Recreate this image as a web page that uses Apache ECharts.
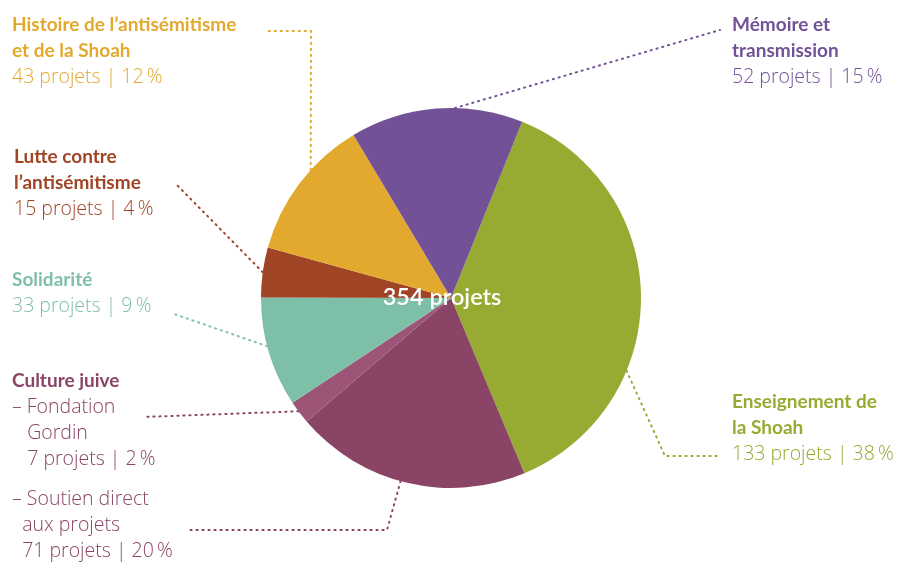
<!DOCTYPE html>
<html><head><meta charset="utf-8">
<script src="https://cdn.jsdelivr.net/npm/echarts@6/dist/echarts.min.js"></script>
<style>html,body{margin:0;padding:0;background:#fff}#c{width:900px;height:562px}</style>
</head><body><div id="c"></div>
<script>
// ---- data ----
const categories = ['Enseignement de la Shoah', 'Culture juive – Soutien direct aux projets', 'Culture juive – Fondation Gordin', 'Solidarité', 'Lutte contre l’antisémitisme', 'Histoire de l’antisémitisme et de la Shoah', 'Mémoire et transmission'];
const values = [133, 71, 7, 33, 15, 43, 52];
const boldLines = [['Enseignement de', 'la Shoah'], [], ['Culture juive'], ['Solidarité'], ['Lutte contre', 'l’antisémitisme'], ['Histoire de l’antisémitisme', 'et de la Shoah'], ['Mémoire et', 'transmission']];
const lightLines = [[], ['– Soutien direct', '  aux projets'], ['– Fondation', '   Gordin'], [], [], [], []];
const colors = ['#97AA31', '#8A4466', '#9C5577', '#7EBFA7', '#A04426', '#E2A92E', '#725196'];
const textColors = ['#97AA31', '#8A4466', '#8A4466', '#7EBFA7', '#A04426', '#E2A92E', '#725196'];

// ---- layout (not data) ----
const CX = 451, CY = 298, R = 190;
const labelPos = [[732, 389], [12, 486], [12, 368], [12, 267], [14, 144], [12, 12], [732, 12]];
const valueIndent = ['', '  ', '   ', '', '', '', ''];
// leader: angle (deg clockwise from top) where it touches the pie, then further points
const leaders = [
  {a: 112.5, pts: [[665, 456], [718, 456]]},
  {a: 195.4, pts: [[387, 530], [190, 530]]},
  {a: 233.4, pts: [[143, 417]]},
  {a: 255.3, pts: [[174, 314]]},
  {a: 277.8, pts: [[175, 183]]},
  {a: 312.4, pts: [[311, 31], [268, 31]]},
  {a: 1.2, pts: [[720, 30]]}
];

const total = values.reduce((s, v) => s + v, 0);
function anchor(a) {
  const r = a * Math.PI / 180;
  return [CX + R * Math.sin(r), CY - R * Math.cos(r)];
}

const FONT = 'Lato';
const FONT_L = '"Open Sans"';
const data = values.map((v, i) => ({
  name: categories[i], value: v,
  itemStyle: {color: colors[i]},
  label: {color: textColors[i]},
  labelLine: {lineStyle: {color: textColors[i]}}
}));

const chart = echarts.init(document.getElementById('c'), null, {renderer: 'canvas'});
chart.setOption({
  animation: false,
  graphic: [{
    type: 'text', x: CX - 9, y: CY - 1, z: 100,
    style: {text: total + ' projets', fill: '#fff', font: '600 23.5px ' + FONT, align: 'center', verticalAlign: 'middle'}
  }],
  series: [{
    type: 'pie',
    center: [CX, CY], radius: R,
    startAngle: 68, clockwise: true,
    data: data,
    itemStyle: {borderWidth: 0},
    emphasis: {disabled: true},
    label: {
      show: true, position: 'outside', fontFamily: FONT,
      formatter: p => {
        const i = p.dataIndex;
        const pct = Math.round(values[i] / total * 100);
        const out = [];
        boldLines[i].forEach(t => out.push('{b|' + t + '}'));
        lightLines[i].forEach(t => out.push('{l|' + t + '}'));
        out.push('{l|' + valueIndent[i] + values[i] + ' projets | ' + pct + '\u2009%}');
        return out.join('\n');
      },
      rich: {
        b: {fontFamily: FONT, fontSize: 19, fontWeight: 'bold', lineHeight: 26},
        l: {fontFamily: FONT_L, fontSize: 19.5, fontWeight: 300, lineHeight: 26}
      }
    },
    labelLine: {show: true, length: 10, length2: 10, lineStyle: {width: 2, type: [1.2, 4.8], cap: 'round'}},
    labelLayout: p => {
      const i = p.dataIndex;
      const L = leaders[i];
      return {
        x: labelPos[i][0], y: labelPos[i][1], align: 'left', verticalAlign: 'top',
        labelLinePoints: [anchor(L.a)].concat(L.pts)
      };
    }
  }]
});
</script></body></html>
